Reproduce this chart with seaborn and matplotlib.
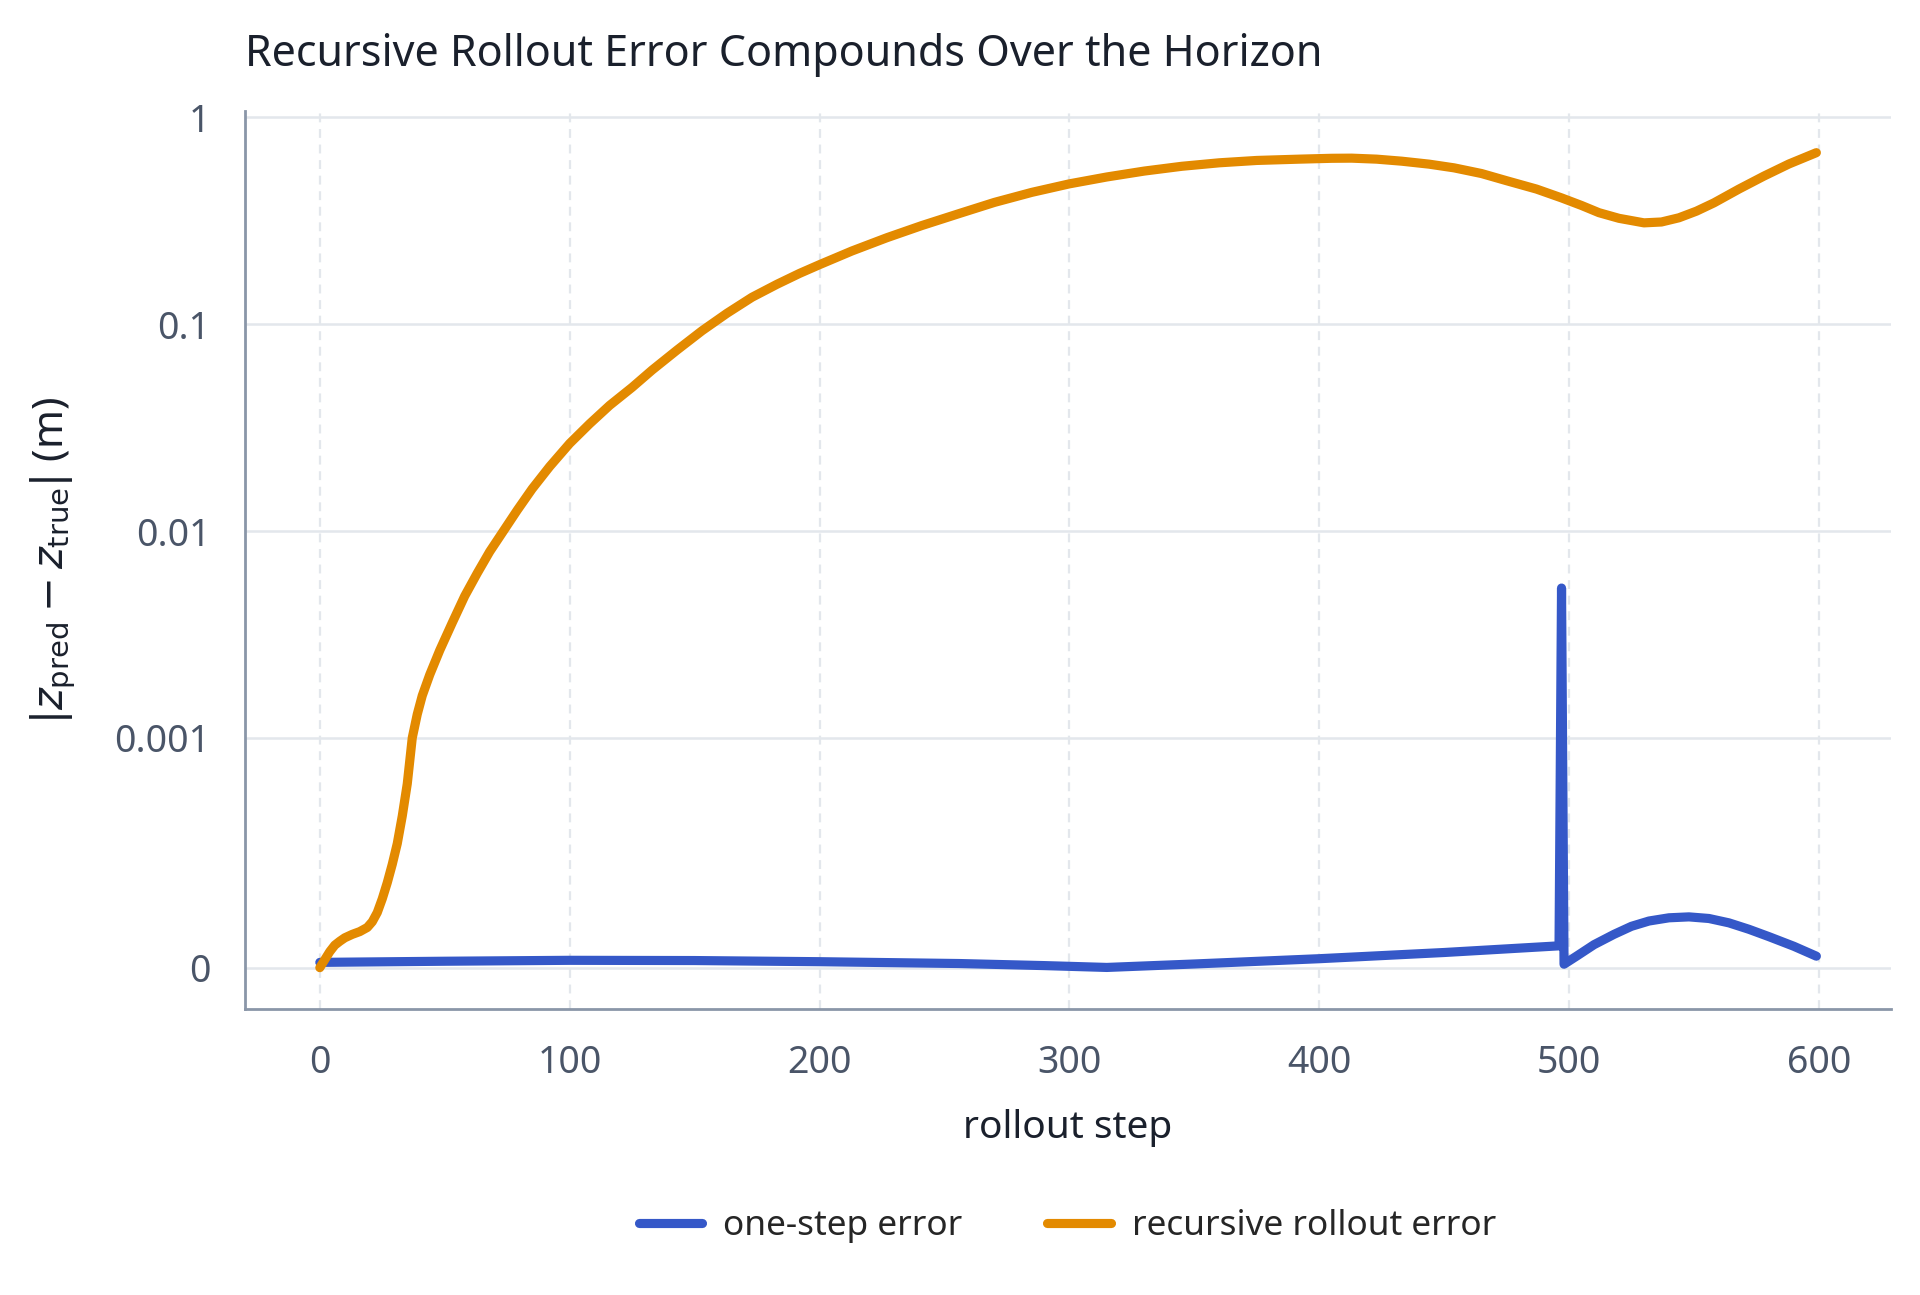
import pandas as pd
import numpy as np
import matplotlib.pyplot as plt
import seaborn as sns

# recursive rollout error (orange)
roll_step = [0, 2, 4, 6, 8, 10, 13, 16, 19, 21, 23, 25, 27, 29, 31, 33, 35, 36, 37, 39,
             41, 44, 48, 53, 58, 63, 68, 73, 79, 85, 92, 100, 108, 116, 125, 133, 143, 153,
             163, 173, 183, 192, 200, 213, 227, 241, 256, 270, 285, 300, 315, 330, 345, 360,
             375, 392, 405, 413, 423, 433, 444, 454, 465, 475, 487, 497, 505, 512, 520, 530,
             537, 544, 551, 558, 568, 578, 588, 599]
roll_err = [0, 0.035e-3, 0.07e-3, 0.098e-3, 0.115e-3, 0.13e-3, 0.145e-3, 0.157e-3, 0.175e-3,
            0.2e-3, 0.24e-3, 0.3e-3, 0.37e-3, 0.45e-3, 0.54e-3, 0.66e-3, 0.8e-3, 0.9e-3,
            1.0e-3, 1.3e-3, 1.6e-3, 2.02e-3, 2.65e-3, 3.6e-3, 4.85e-3, 6.25e-3, 7.95e-3, 9.8e-3,
            12.6e-3, 16.0e-3, 20.5e-3, 26.5e-3, 33e-3, 40.5e-3, 49.5e-3, 60e-3, 75e-3, 93e-3,
            113e-3, 135e-3, 156e-3, 176e-3, 194e-3, 226e-3, 262e-3, 300e-3, 343e-3, 388e-3,
            434e-3, 477e-3, 515e-3, 550e-3, 580e-3, 603e-3, 619e-3, 628e-3, 634e-3, 635e-3,
            628e-3, 614e-3, 594e-3, 570e-3, 535e-3, 494e-3, 450e-3, 408e-3, 375e-3, 346e-3,
            325e-3, 309e-3, 312e-3, 327e-3, 352e-3, 386e-3, 450e-3, 520e-3, 595e-3, 675e-3]

# one-step error (blue)
one_step = [0, 50, 100, 150, 200, 256, 290, 315, 350, 400, 450, 496, 497, 498,
            503, 510, 518, 525, 532, 540, 548, 556, 564, 572, 580, 590, 599]
one_err = [0.023e-3, 0.028e-3, 0.032e-3, 0.031e-3, 0.026e-3, 0.018e-3, 0.009e-3, 0.001e-3,
           0.016e-3, 0.039e-3, 0.066e-3, 0.095e-3, 5.3e-3, 0.015e-3,
           0.05e-3, 0.1e-3, 0.145e-3, 0.18e-3, 0.203e-3, 0.217e-3, 0.221e-3, 0.214e-3,
           0.195e-3, 0.167e-3, 0.135e-3, 0.093e-3, 0.05e-3]

series_names = ["one-step error", "recursive rollout error"]
colors = {"one-step error": "#3558c8", "recursive rollout error": "#e38a00"}

df = pd.concat([
    pd.DataFrame({"step": one_step, "err": one_err, "series": series_names[0]}),
    pd.DataFrame({"step": roll_step, "err": roll_err, "series": series_names[1]}),
])

sns.set_style("white")
plt.rcParams['font.family'] = ['Noto Sans', 'DejaVu Sans']
plt.rcParams['axes.unicode_minus'] = True
plt.rcParams['lines.solid_capstyle'] = 'round'
plt.rcParams['lines.solid_joinstyle'] = 'round'

fig = plt.figure(figsize=(9.6, 6.475), dpi=200)
ax = fig.add_axes([0.1276, 0.221, 0.8574, 0.693])

sns.lineplot(data=df, x="step", y="err", hue="series", palette=colors,
             estimator=None, sort=False, linewidth=3.3, ax=ax, legend=False)

ax.set_yscale("symlog", linthresh=1e-3, linscale=1)
ax.set_ylim(-0.000179, 1.069)
ax.set_xlim(-29.95, 628.95)
ax.set_yticks([0, 1e-3, 1e-2, 1e-1, 1])
ax.set_yticklabels(["0", "0.001", "0.01", "0.1", "1"])
ax.yaxis.set_minor_locator(plt.NullLocator())
ax.set_xticks([0, 100, 200, 300, 400, 500, 600])

ax.grid(axis="y", color="#e3e7ec", linewidth=0.9, linestyle="-")
ax.grid(axis="x", color="#e3e7ec", linewidth=0.8, linestyle=(0, (4, 3)))
ax.set_axisbelow(True)

for s in ["top", "right"]:
    ax.spines[s].set_visible(False)
for s in ["left", "bottom"]:
    ax.spines[s].set_color("#8a96a8")
    ax.spines[s].set_linewidth(1.0)

ax.tick_params(axis="both", direction="out", length=4, width=1.1, color="#4a5568",
               labelcolor="#4a5568", labelsize=13.5, pad=8.5)

ax.set_xlabel("rollout step", fontsize=14, color="#1a202c", labelpad=10)
ax.set_ylabel(r"$|z_{\mathrm{pred}} - z_{\mathrm{true}}|$ (m)", fontsize=15,
              color="#1a202c", labelpad=13)
ax.set_title("Recursive Rollout Error Compounds Over the Horizon", loc="left",
             fontsize=15.5, color="#1a202c", pad=16.5)

handles = [plt.Line2D([], [], color=colors[n], linewidth=3.3) for n in series_names]
fig.legend(handles, series_names, loc="center", bbox_to_anchor=(0.556, 0.053), ncol=2,
           frameon=False, fontsize=12.7, handlelength=1.8, handletextpad=0.6,
           columnspacing=2.4)

fig.savefig("out.png", dpi=200, facecolor="white")
